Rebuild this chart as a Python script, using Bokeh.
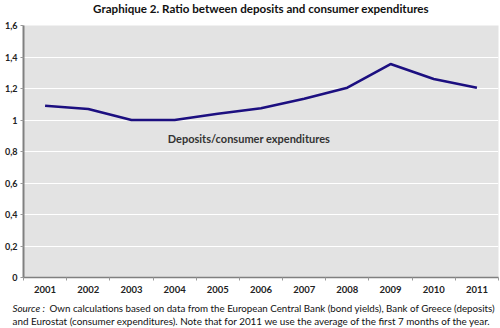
from bokeh.plotting import figure
from bokeh.models import Label, FixedTicker, Range1d
from bokeh.layouts import column
from bokeh.core.properties import value
from bokeh.embed import file_html
from bokeh.resources import INLINE

years = [2001, 2002, 2003, 2004, 2005, 2006, 2007, 2008, 2009, 2010, 2011]
ratio = [1.09, 1.07, 1.0, 1.0, 1.04, 1.075, 1.135, 1.205, 1.355, 1.26, 1.205]
y_ticks = [0, 0.2, 0.4, 0.6, 0.8, 1.0, 1.2, 1.4, 1.6]
y_tick_labels = ["0", "0,2", "0,4", "0,6", "0,8", "1", "1,2", "1,4", "1,6"]
title_text = "Graphique 2. Ratio between deposits and consumer expenditures"
series_label = "Deposits/consumer expenditures"
source_lead = "Source :"
source_line1 = "Own calculations based on data from the European Central Bank (bond yields), Bank of Greece (deposits)"
source_line2 = "and Eurostat (consumer expenditures). Note that for 2011 we use the average of the first 7 months of the year."

FONT = "Lato"
W = 500


def blank(height):
    f = figure(width=W, height=height, output_backend="svg", toolbar_location=None,
               x_range=Range1d(0, W), y_range=Range1d(0, height),
               x_axis_location=None, y_axis_location=None,
               min_border_left=0, min_border_right=0,
               min_border_top=0, min_border_bottom=0)
    f.grid.visible = False
    f.outline_line_color = None
    f.background_fill_color = "white"
    f.border_fill_color = "white"
    return f


# header with title
head = blank(20)
head.text(x=[260.5], y=[12], text=[title_text], text_align="center", text_baseline="middle",
          text_font=value(FONT), text_font_style="bold", text_font_size="11.6px", text_color="#111111")

# main chart
p = figure(width=W, height=278, output_backend="svg", toolbar_location=None,
           x_range=Range1d(years[0] - 0.5, years[-1] + 0.5), y_range=Range1d(0, 1.6),
           min_border_left=23, min_border_right=2, min_border_top=5, min_border_bottom=21)
p.background_fill_color = "#e3e3e3"
p.border_fill_color = "white"
p.outline_line_color = None

p.line(years, ratio, line_color="#1c0f80", line_width=2.6)

p.xaxis.ticker = FixedTicker(ticks=years, minor_ticks=[y + 0.5 for y in [years[0] - 1] + years])
p.xaxis.major_label_overrides = {y: str(y) for y in years}
p.xaxis.major_tick_line_color = None
p.xaxis.minor_tick_in = 0
p.xaxis.minor_tick_out = 3
p.xaxis.minor_tick_line_color = "#9a9a9a"
p.xaxis.axis_line_color = "#808080"
p.xaxis.axis_line_width = 1.5
p.xaxis.major_label_standoff = 2
p.xaxis.major_label_text_font = FONT
p.xaxis.major_label_text_font_style = "bold"
p.xaxis.major_label_text_font_size = "9.5px"
p.xaxis.major_label_text_color = "#222222"

p.yaxis.ticker = FixedTicker(ticks=y_ticks)
p.yaxis.major_label_overrides = {t: l for t, l in zip(y_ticks, y_tick_labels)}
p.yaxis.major_tick_in = 0
p.yaxis.major_tick_out = 3
p.yaxis.minor_tick_line_color = None
p.yaxis.major_tick_line_color = "#9a9a9a"
p.yaxis.axis_line_color = "#808080"
p.yaxis.axis_line_width = 2
p.yaxis.major_label_standoff = 3
p.yaxis.major_label_text_font = FONT
p.yaxis.major_label_text_font_style = "bold"
p.yaxis.major_label_text_font_size = "9px"
p.yaxis.major_label_text_color = "#222222"

p.xgrid.grid_line_color = None
p.ygrid.ticker = FixedTicker(ticks=y_ticks)
p.ygrid.grid_line_color = "white"
p.ygrid.grid_line_width = 1

p.add_layout(Label(x=2005.72, y=0.885, text=series_label, text_align="center", text_baseline="middle",
                   text_font=FONT, text_font_style="bold", text_font_size="11px", text_color="#333333"))

# footer with source note
foot = blank(30)
foot.text(x=[12], y=[21], text=[source_lead], text_align="left", text_baseline="middle",
          text_font=value(FONT), text_font_style="italic", text_font_size="9.9px", text_color="#111111")
foot.text(x=[49], y=[21], text=[source_line1], text_align="left", text_baseline="middle",
          text_font=value(FONT), text_font_size="9.75px", text_color="#111111")
foot.text(x=[12], y=[8], text=[source_line2], text_align="left", text_baseline="middle",
          text_font=value(FONT), text_font_size="9.9px", text_color="#111111")

# header and footer are wrapped in their own columns so their frames are not aligned to the chart's
layout = column(column(head), p, column(foot), spacing=0)
open("out.html", "w").write(file_html(layout, INLINE))
